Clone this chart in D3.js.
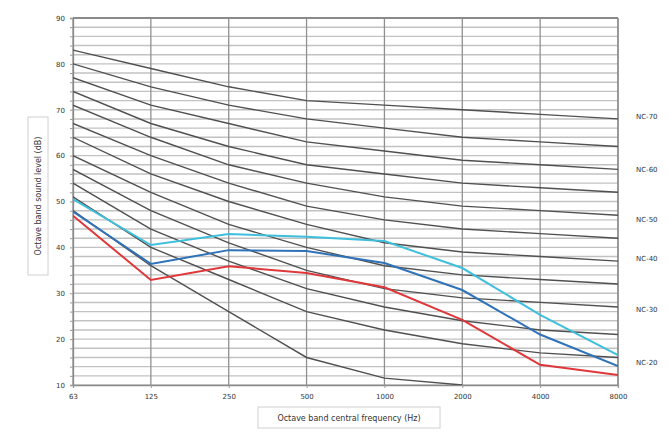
<!DOCTYPE html>
<html><head><meta charset="utf-8">
<script src="https://cdn.jsdelivr.net/npm/d3@7"></script>
<style>html,body{margin:0;padding:0;background:#fff;}svg{display:block;}</style>
</head><body>
<svg id="c" width="670" height="437"></svg>
<script>
const categories = ["63","125","250","500","1000","2000","4000","8000"];
const yTickLabels = [10,20,30,40,50,60,70,80,90];
// NC curves (dB) at each octave band
const nc70 = [83,79,75,72,71,70,69,68];
const nc65 = [80,75,71,68,66,64,63,62];
const nc60 = [77,71,67,63,61,59,58,57];
const nc55 = [74,67,62,58,56,54,53,52];
const nc50 = [71,64,58,54,51,49,48,47];
const nc45 = [67,60,54,49,46,44,43,42];
const nc40 = [64,56,50,45,41,39,38,37];
const nc35 = [60,52,45,40,36,34,33,32];
const nc30 = [57,48,41,35,31,29,28,27];
const nc25 = [54,44,37,31,27,24,22,21];
const nc20 = [51,40,33,26,22,19,17,16];
const ncLow = [48,36,26,16,11.5,10];
const ncLabels = ["NC-70","NC-60","NC-50","NC-40","NC-30","NC-20"];
const ncLabelLevels = [68.5,57,46,37.5,26.5,15];
// measured spectra
const cyanSeries = [50.5,40.5,42.9,42.3,41.4,35.5,25.3,16.5];
const blueSeries = [47.8,36.4,39.4,39.2,36.6,30.7,21.0,14.1];
const redSeries  = [46.9,32.9,35.9,34.4,31.3,24.2,14.4,12.2];

const svg = d3.select("#c");
const L = 73, R = 618, T = 18, B = 385;
const x = d3.scalePoint().domain(categories).range([L, R]);
const y = d3.scaleLinear().domain([10, 90]).range([B, T]);

// horizontal minor grid every 2 dB
const gridVals = d3.range(10, 91, 2);
svg.append("g").selectAll("line").data(gridVals).join("line")
  .attr("x1", L).attr("x2", R)
  .attr("y1", d => y(d)).attr("y2", d => y(d))
  .attr("stroke", "#c2c2c2").attr("stroke-width", 1.4);

// vertical grid
svg.append("g").selectAll("line").data(categories).join("line")
  .attr("x1", d => x(d)).attr("x2", d => x(d))
  .attr("y1", T).attr("y2", B)
  .attr("stroke", "#909090").attr("stroke-width", 1.3);

// axes
const yAxis = d3.axisLeft(y).tickValues(gridVals).tickSize(3)
  .tickFormat(d => yTickLabels.includes(d) ? d : "");
const gy = svg.append("g").attr("transform", `translate(${L},0)`).call(yAxis);
gy.select(".domain").attr("stroke", "#8a8a8a").attr("stroke-width", 1.3);
gy.selectAll(".tick line").attr("stroke", "#9a9a9a");
gy.selectAll("text").attr("font-family", "DejaVu Sans").attr("font-size", 7).attr("fill", "#333").attr("x", -8);

const xAxis = d3.axisBottom(x).tickSize(3);
const gx = svg.append("g").attr("transform", `translate(0,${B})`).call(xAxis);
gx.select(".domain").attr("stroke", "#8a8a8a").attr("stroke-width", 1.3);
gx.selectAll(".tick line").attr("stroke", "#9a9a9a");
gx.selectAll("text").attr("font-family", "DejaVu Sans").attr("font-size", 7).attr("fill", "#333").attr("dy", "1.1em");

// top and right borders
svg.append("line").attr("x1", L).attr("x2", R).attr("y1", T).attr("y2", T)
  .attr("stroke", "#8a8a8a").attr("stroke-width", 2);
svg.append("line").attr("x1", R).attr("x2", R).attr("y1", T).attr("y2", B)
  .attr("stroke", "#8a8a8a").attr("stroke-width", 1.3);

const line = d3.line().x((d, i) => x(categories[i])).y(d => y(d));
const clip = svg.append("clipPath").attr("id", "pc").append("rect")
  .attr("x", L).attr("y", T).attr("width", R - L).attr("height", B - T);

const ncCurves = [nc70, nc65, nc60, nc55, nc50, nc45, nc40, nc35, nc30, nc25, nc20, ncLow];
const gCurves = svg.append("g").attr("clip-path", "url(#pc)");
gCurves.selectAll("path.nc").data(ncCurves).join("path")
  .attr("class", "nc")
  .attr("d", line).attr("fill", "none")
  .attr("stroke", "#505050").attr("stroke-width", 1.4);

const series = [
  {v: cyanSeries, c: "#3ebfdc"},
  {v: blueSeries, c: "#2f72b8"},
  {v: redSeries, c: "#e0383a"}
];
gCurves.selectAll("path.s").data(series).join("path")
  .attr("class", "s")
  .attr("d", d => line(d.v)).attr("fill", "none")
  .attr("stroke", d => d.c).attr("stroke-width", 2);

// NC labels on the right
svg.append("g").selectAll("text").data(ncLabels).join("text")
  .attr("x", 636).attr("y", (d, i) => y(ncLabelLevels[i]))
  .attr("dy", "0.35em")
  .attr("font-family", "DejaVu Sans").attr("font-size", 7).attr("fill", "#333")
  .text(d => d);

// x axis title with box
const xtG = svg.append("g");
xtG.append("rect").attr("x", 258).attr("y", 407).attr("width", 182).attr("height", 21)
  .attr("fill", "#fff").attr("stroke", "#d0d0d0").attr("stroke-width", 1);
xtG.append("text").attr("x", 349).attr("y", 418).attr("dy", "0.35em")
  .attr("text-anchor", "middle").attr("font-family", "DejaVu Sans").attr("font-size", 8).attr("fill", "#333")
  .text("Octave band central frequency (Hz)");

// y axis title with box
const ytG = svg.append("g");
ytG.append("rect").attr("x", 28).attr("y", 117).attr("width", 20).attr("height", 158)
  .attr("fill", "#fff").attr("stroke", "#d0d0d0").attr("stroke-width", 1);
ytG.append("text").attr("transform", "translate(38,196) rotate(-90)").attr("dy", "0.35em")
  .attr("text-anchor", "middle").attr("font-family", "DejaVu Sans").attr("font-size", 8).attr("fill", "#333")
  .text("Octave band sound level (dB)");
</script>
</body></html>
